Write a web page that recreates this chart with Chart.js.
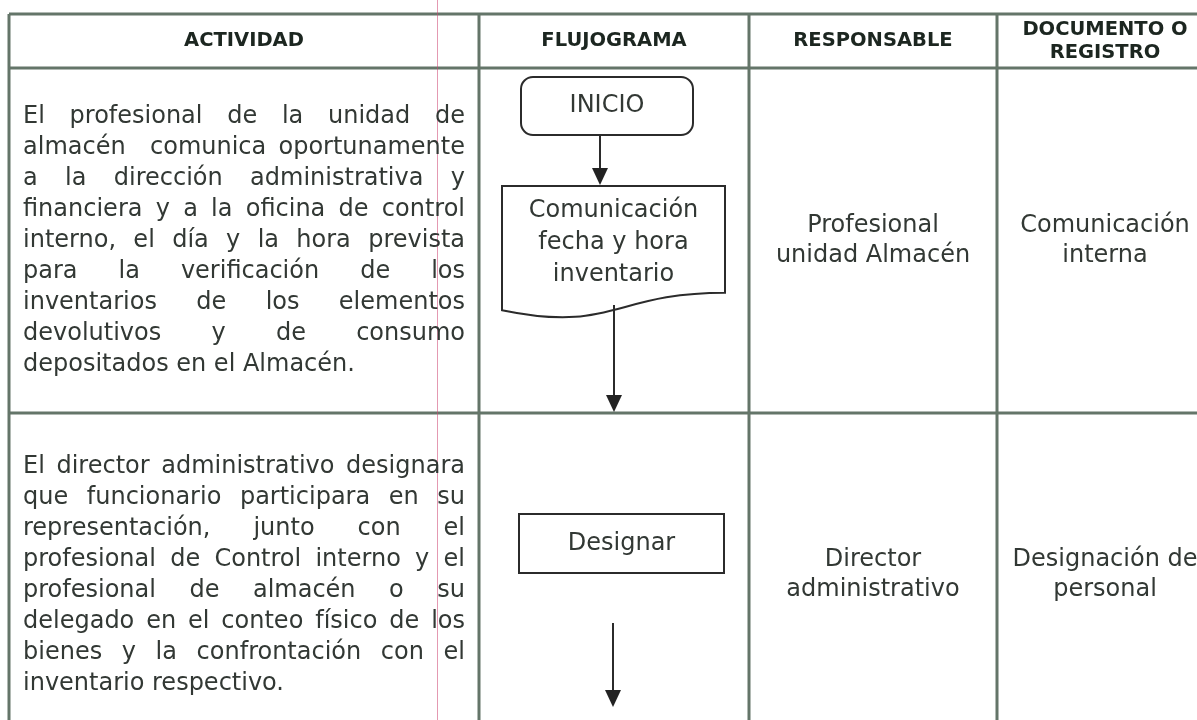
<!DOCTYPE html>
<html>
<head>
<meta charset="utf-8">
<script src="https://cdn.jsdelivr.net/npm/chart.js@4.4.1/dist/chart.umd.min.js"></script>
<style>
  html, body { margin: 0; padding: 0; background: #fff; }
  canvas { display: block; }
</style>
</head>
<body>
<canvas id="flujo" width="1197" height="720"></canvas>
<script>
// Encabezados de columna
const encabezados = [["ACTIVIDAD"], ["FLUJOGRAMA"], ["RESPONSABLE"], ["DOCUMENTO O", "REGISTRO"]];

// Texto de cada actividad, línea por línea (justificado)
const actividades = [
    [
        "El profesional de la unidad de",
        "almacén  comunica oportunamente",
        "a la dirección administrativa y",
        "financiera y a la oficina de control",
        "interno, el día y la hora prevista",
        "para la verificación de los",
        "inventarios de los elementos",
        "devolutivos y de consumo",
        "depositados en el Almacén.",
    ],
    [
        "El director administrativo designara",
        "que funcionario participara en su",
        "representación, junto con el",
        "profesional de Control interno y el",
        "profesional de almacén o su",
        "delegado en el conteo físico de los",
        "bienes y la confrontación con el",
        "inventario respectivo.",
    ],
];

// Pasos del flujograma
const pasos = [["INICIO"], ["Comunicación", "fecha y hora", "inventario"], ["Designar"]];
const formas = ["terminal", "documento", "proceso"];

const responsables = [["Profesional", "unidad Almacén"], ["Director", "administrativo"]];
const documentos = [["Comunicación", "interna"], ["Designación de", "personal"]];

// Disposición (unidades de la escala)
const layout = {
    cols: [9, 479, 749, 997, 1213],
    rows: [14, 68, 413, 737],
    margen: 437,
    textoIzq: 23, textoDer: 465,
    lineaAct: 31,
    cajas: [
        { x0: 521, x1: 693, y0: 77, y1: 135 },
        { x0: 502, x1: 725, y0: 186, y1: 319 },
        { x0: 519, x1: 724, y0: 514, y1: 573 },
    ],
    flechas: [
        { x: 600, y0: 135, y1: 185 },
        { x: 614, y0: 305, y1: 412 },
        { x: 613, y0: 623, y1: 707 },
    ],
};

const fuente = "'DejaVu Sans', Verdana, sans-serif";

function justificar(ctx, linea, x0, x1, y, ultima) {
    if (ultima) { ctx.textAlign = "left"; ctx.fillText(linea, x0, y); return; }
    const palabras = linea.split(" ");
    let ancho = 0;
    palabras.forEach(p => { ancho += ctx.measureText(p).width; });
    const hueco = (x1 - x0 - ancho) / (palabras.length - 1);
    let x = x0;
    ctx.textAlign = "left";
    palabras.forEach(p => {
        ctx.fillText(p, x, y);
        x += ctx.measureText(p).width + hueco;
    });
}

function flecha(ctx, x, y0, y1) {
    ctx.beginPath();
    ctx.moveTo(x, y0);
    ctx.lineTo(x, y1 - 14);
    ctx.stroke();
    ctx.beginPath();
    ctx.moveTo(x - 8, y1 - 17);
    ctx.lineTo(x + 8, y1 - 17);
    ctx.lineTo(x, y1);
    ctx.closePath();
    ctx.fill();
}

const tablaPlugin = {
    id: "tabla",
    afterDraw(chart) {
        const ctx = chart.ctx;
        const sx = chart.scales.x, sy = chart.scales.y;
        const X = v => sx.getPixelForValue(v);
        const Y = v => sy.getPixelForValue(v);
        const c = layout.cols, r = layout.rows;
        ctx.save();

        // cuadrícula
        ctx.strokeStyle = "#647569";
        ctx.lineWidth = 3;
        r.forEach(v => {
            ctx.beginPath();
            ctx.moveTo(X(c[0]), Y(v));
            ctx.lineTo(X(c[c.length - 1]), Y(v));
            ctx.stroke();
        });
        c.forEach(v => {
            ctx.beginPath();
            ctx.moveTo(X(v), Y(r[0]));
            ctx.lineTo(X(v), Y(r[r.length - 1]));
            ctx.stroke();
        });

        // línea de margen
        ctx.strokeStyle = "rgba(205,70,115,0.55)";
        ctx.lineWidth = 1;
        ctx.beginPath();
        ctx.moveTo(X(layout.margen) + 0.5, Y(0));
        ctx.lineTo(X(layout.margen) + 0.5, Y(720));
        ctx.stroke();

        // encabezados
        ctx.fillStyle = "#1c2620";
        ctx.font = "bold 19.5px " + fuente;
        ctx.textAlign = "center";
        ctx.textBaseline = "middle";
        const yh = (r[0] + r[1]) / 2;
        encabezados.forEach((lineas, i) => {
            const xc = (c[i] + c[i + 1]) / 2;
            lineas.forEach((t, k) => {
                ctx.fillText(t, X(xc), Y(yh + (k - (lineas.length - 1) / 2) * 23));
            });
        });

        // actividades
        ctx.fillStyle = "#323834";
        ctx.font = "24px " + fuente;
        actividades.forEach((lineas, i) => {
            const yc = (r[i + 1] + r[i + 2]) / 2;
            lineas.forEach((t, k) => {
                const y = yc + (k - (lineas.length - 1) / 2) * layout.lineaAct;
                justificar(ctx, t, X(layout.textoIzq), X(layout.textoDer), Y(y), k === lineas.length - 1);
            });
        });

        // responsables y documentos
        ctx.textAlign = "center";
        [responsables, documentos].forEach((col, j) => {
            const xc = (c[2 + j] + c[3 + j]) / 2;
            col.forEach((lineas, i) => {
                const yc = (r[i + 1] + r[i + 2]) / 2;
                lineas.forEach((t, k) => {
                    ctx.fillText(t, X(xc), Y(yc + (k - (lineas.length - 1) / 2) * 30));
                });
            });
        });

        // flujograma
        ctx.strokeStyle = "#2b2b2b";
        ctx.lineWidth = 2;
        layout.cajas.forEach((b, i) => {
            const x0 = X(b.x0), x1 = X(b.x1), y0 = Y(b.y0), y1 = Y(b.y1);
            ctx.beginPath();
            if (formas[i] === "terminal") {
                ctx.roundRect(x0, y0, x1 - x0, y1 - y0, 12);
            } else if (formas[i] === "documento") {
                const h = y1 - y0, xm = (x0 + x1) / 2;
                ctx.moveTo(x0, y0);
                ctx.lineTo(x1, y0);
                ctx.lineTo(x1, y0 + h * 0.802);
                ctx.bezierCurveTo(xm, y0 + h * 0.802, xm, y0 + h * 1.1075, x0, y0 + h * 0.934);
                ctx.closePath();
            } else {
                ctx.rect(x0, y0, x1 - x0, y1 - y0);
            }
            ctx.stroke();
        });

        ctx.fillStyle = "#323834";
        ctx.font = "24px " + fuente;
        ctx.textAlign = "center";
        pasos.forEach((lineas, i) => {
            const b = layout.cajas[i];
            const xc = (b.x0 + b.x1) / 2;
            const yc = formas[i] === "documento" ? b.y0 + 57 : (b.y0 + b.y1) / 2;
            lineas.forEach((t, k) => {
                ctx.fillText(t, X(xc), Y(yc + (k - (lineas.length - 1) / 2) * 32));
            });
        });

        ctx.fillStyle = "#222";
        layout.flechas.forEach(f => flecha(ctx, X(f.x), Y(f.y0), Y(f.y1)));

        ctx.restore();
    },
};

new Chart(document.getElementById("flujo"), {
    type: "scatter",
    data: { datasets: [] },
    options: {
        responsive: false,
        animation: false,
        layout: { padding: 0 },
        plugins: { legend: { display: false }, tooltip: { enabled: false } },
        scales: {
            x: { type: "linear", min: 0, max: 1197, display: false },
            y: { type: "linear", min: 0, max: 720, reverse: true, display: false },
        },
    },
    plugins: [tablaPlugin],
});
</script>
</body>
</html>
